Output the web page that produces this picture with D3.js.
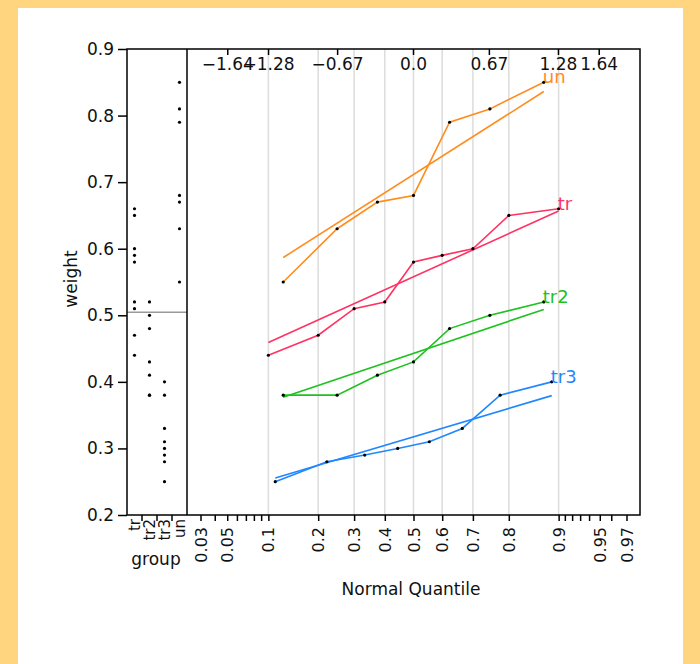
<!DOCTYPE html>
<html>
<head>
<meta charset="utf-8">
<script src="https://cdn.jsdelivr.net/npm/d3@7"></script>
<style>
  body { margin: 0; background: #FFD580; }
  text { font-family: "DejaVu Sans", sans-serif; fill: #111; }
</style>
</head>
<body>
<div id="chart-root"></div>
<script>
// Weights per group
const groups = ["tr", "tr2", "tr3", "un"]
const trWeights = [0.66, 0.65, 0.60, 0.59, 0.58, 0.52, 0.51, 0.47, 0.44]
const tr2Weights = [0.52, 0.50, 0.48, 0.43, 0.41, 0.38, 0.38]
const tr3Weights = [0.40, 0.38, 0.33, 0.31, 0.30, 0.29, 0.28, 0.25]
const unWeights = [0.85, 0.81, 0.79, 0.68, 0.67, 0.63, 0.55]

const groupColors = {
  "tr": "#FF3262",
  "tr2": "#1DC21D",
  "tr3": "#2087FF",
  "un": "#FF8C1C",
}

const weightTicks = [0.2, 0.3, 0.4, 0.5, 0.6, 0.7, 0.8, 0.9]
const probTicks = [0.03, 0.05, 0.1, 0.2, 0.3, 0.4, 0.5, 0.6, 0.7, 0.8, 0.9, 0.95, 0.97]
const probMinorTicks = [0.04, 0.06, 0.07, 0.08, 0.09, 0.91, 0.92, 0.93, 0.94, 0.96]
const gridProbs = [0.1, 0.2, 0.3, 0.4, 0.5, 0.6, 0.7, 0.8, 0.9]
const zTicks = [-1.64, -1.28, -0.67, 0.0, 0.67, 1.28, 1.64]
const zTickLabels = ["\u22121.64", "\u22121.28", "\u22120.67", "0.0", "0.67", "1.28", "1.64"]

const series = [
  {group: "tr", values: trWeights},
  {group: "tr2", values: tr2Weights},
  {group: "tr3", values: tr3Weights},
  {group: "un", values: unWeights},
]

// inverse normal cdf (Acklam)
function probit(p) {
  const a = [-3.969683028665376e+01, 2.209460984245205e+02, -2.759285104469687e+02, 1.383577518672690e+02, -3.066479806614716e+01, 2.506628277459239e+00]
  const b = [-5.447609879822406e+01, 1.615858368580409e+02, -1.556989798598866e+02, 6.680131188771972e+01, -1.328068155288572e+01]
  const c = [-7.784894002430293e-03, -3.223964580411365e-01, -2.400758277161838e+00, -2.549732539343734e+00, 4.374664141464968e+00, 2.938163982698783e+00]
  const d = [7.784695709041462e-03, 3.224671290700398e-01, 2.445134137142996e+00, 3.754408661907416e+00]
  const tail = q => (((((c[0]*q+c[1])*q+c[2])*q+c[3])*q+c[4])*q+c[5]) / ((((d[0]*q+d[1])*q+d[2])*q+d[3])*q+1)
  if (p < 0.02425) return tail(Math.sqrt(-2 * Math.log(p)))
  if (p > 1 - 0.02425) return -tail(Math.sqrt(-2 * Math.log(1 - p)))
  const q = p - 0.5, r = q * q
  return (((((a[0]*r+a[1])*r+a[2])*r+a[3])*r+a[4])*r+a[5])*q / (((((b[0]*r+b[1])*r+b[2])*r+b[3])*r+b[4])*r+1)
}

const W = 700, H = 664
const plot = {left: 127, split: 187, right: 640, top: 49, bottom: 515}

const svg = d3.select("#chart-root")
  .append("svg")
    .attr("width", W)
    .attr("height", H)
    .style("display", "block")

svg.append("rect")
  .attr("width", W).attr("height", H)
  .attr("fill", "#FFD580")
svg.append("rect")
  .attr("x", 18).attr("y", 8)
  .attr("width", 665).attr("height", H - 8)
  .attr("fill", "#fff")

// Scales
const y = d3.scaleLinear()
  .domain([0.2, 0.9])
  .range([plot.bottom, plot.top])

const x = d3.scaleLinear()
  .domain([-2, 2])
  .range([plot.split, plot.right])

const xg = d3.scaleBand()
  .domain(groups)
  .range([plot.left, plot.split])

// Grid lines
svg.append("g")
  .selectAll("line")
  .data(gridProbs)
  .enter()
  .append("line")
  .attr("x1", d => x(probit(d))).attr("x2", d => x(probit(d)))
  .attr("y1", plot.top).attr("y2", plot.bottom)
  .attr("stroke", "#dcdcdc")
  .attr("stroke-width", 1.5)

// Y axis
const yAxis = svg.append("g")
  .attr("transform", `translate(${plot.left},0)`)
  .call(d3.axisLeft(y).tickValues(weightTicks).tickFormat(d3.format(".1f")).tickSize(9).tickPadding(4))
yAxis.select(".domain").remove()
yAxis.selectAll("line").attr("stroke", "#000").attr("stroke-width", 1.5)
yAxis.selectAll("text").style("font-size", "17px").attr("font-family", null)

// Bottom probability axis
const xAxis = svg.append("g")
  .attr("transform", `translate(0,${plot.bottom})`)
  .call(d3.axisBottom(x)
    .tickValues(probTicks.map(probit))
    .tickFormat((d, i) => probTicks[i])
    .tickSize(6))
xAxis.select(".domain").remove()
xAxis.selectAll("line").attr("stroke", "#000").attr("stroke-width", 1.5)
xAxis.selectAll("text")
  .style("font-size", "16px")
  .attr("font-family", null)
  .attr("transform", "rotate(-90)")
  .attr("text-anchor", "end")
  .attr("x", -12)
  .attr("y", 0)
  .attr("dy", "0.35em")

svg.append("g")
  .selectAll("line")
  .data(probMinorTicks)
  .enter()
  .append("line")
  .attr("x1", d => x(probit(d))).attr("x2", d => x(probit(d)))
  .attr("y1", plot.bottom).attr("y2", plot.bottom + 6)
  .attr("stroke", "#000")
  .attr("stroke-width", 1.5)

// Top normal quantile ticks (inside)
const topTicks = svg.append("g")
topTicks.selectAll("line")
  .data(zTicks)
  .enter()
  .append("line")
  .attr("x1", d => x(d)).attr("x2", d => x(d))
  .attr("y1", plot.top).attr("y2", plot.top + 6)
  .attr("stroke", "#000")
  .attr("stroke-width", 1.5)
topTicks.selectAll("text")
  .data(zTicks)
  .enter()
  .append("text")
  .attr("x", d => x(d))
  .attr("y", plot.top + 21)
  .attr("text-anchor", "middle")
  .style("font-size", "17px")
  .text((d, i) => zTickLabels[i])

// Group panel
const groupTicks = svg.append("g")
groupTicks.selectAll("line")
  .data(groups.slice(1))
  .enter()
  .append("line")
  .attr("x1", d => xg(d)).attr("x2", d => xg(d))
  .attr("y1", plot.bottom).attr("y2", plot.bottom + 6)
  .attr("stroke", "#000")
  .attr("stroke-width", 1.5)
groupTicks.selectAll("text")
  .data(groups)
  .enter()
  .append("text")
  .attr("transform", d => `translate(${xg(d) + xg.bandwidth() / 2},${plot.bottom + 4}) rotate(-90)`)
  .attr("text-anchor", "end")
  .attr("dy", "0.35em")
  .style("font-size", "15px")
  .text(d => d)

const allWeights = series.flatMap(s => s.values)
svg.append("line")
  .attr("x1", plot.left).attr("x2", plot.split)
  .attr("y1", y(d3.mean(allWeights))).attr("y2", y(d3.mean(allWeights)))
  .attr("stroke", "#999")
  .attr("stroke-width", 1.5)

svg.append("g")
  .selectAll("circle")
  .data(series.flatMap(s => s.values.map(v => ({group: s.group, value: v}))))
  .enter()
  .append("circle")
  .attr("cx", d => xg(d.group) + xg.bandwidth() / 2)
  .attr("cy", d => y(d.value))
  .attr("r", 1.6)
  .attr("fill", "#000")

// Normal quantile plots
const line = d3.line()
  .x(d => x(d.z))
  .y(d => y(d.value))

series.forEach(s => {
  const n = s.values.length
  const pts = s.values.slice().sort(d3.ascending)
    .map((v, i) => ({value: v, z: probit((i + 1) / (n + 1))}))
  const mean = d3.mean(s.values)
  const sd = d3.deviation(s.values)
  const fit = [pts[0], pts[n - 1]].map(p => ({z: p.z, value: mean + sd * p.z}))
  const color = groupColors[s.group]

  const g = svg.append("g").classed("series", true)
  g.append("path")
    .attr("d", line(fit))
    .attr("fill", "none")
    .attr("stroke", color)
    .attr("stroke-width", 1.6)
  g.append("path")
    .attr("d", line(pts))
    .attr("fill", "none")
    .attr("stroke", color)
    .attr("stroke-width", 1.6)
  g.selectAll("circle")
    .data(pts)
    .enter()
    .append("circle")
    .attr("cx", d => x(d.z))
    .attr("cy", d => y(d.value))
    .attr("r", 1.6)
    .attr("fill", "#000")
  g.append("text")
    .attr("x", x(pts[n - 1].z) - 1)
    .attr("y", y(pts[n - 1].value) + 1)
    .style("font-size", "18px")
    .style("fill", color)
    .text(s.group)
})

// Frame
svg.append("rect")
  .attr("x", plot.left).attr("y", plot.top)
  .attr("width", plot.right - plot.left).attr("height", plot.bottom - plot.top)
  .attr("fill", "none")
  .attr("stroke", "#000")
  .attr("stroke-width", 1.5)
svg.append("line")
  .attr("x1", plot.split).attr("x2", plot.split)
  .attr("y1", plot.top).attr("y2", plot.bottom)
  .attr("stroke", "#000")
  .attr("stroke-width", 1.5)

// Axis titles
svg.append("text")
  .attr("transform", "translate(77,279) rotate(-90)")
  .attr("text-anchor", "middle")
  .style("font-size", "17px")
  .text("weight")
svg.append("text")
  .attr("x", 156).attr("y", 565)
  .attr("text-anchor", "middle")
  .style("font-size", "17px")
  .text("group")
svg.append("text")
  .attr("x", 411).attr("y", 595)
  .attr("text-anchor", "middle")
  .style("font-size", "17px")
  .text("Normal Quantile")
</script>
</body>
</html>
